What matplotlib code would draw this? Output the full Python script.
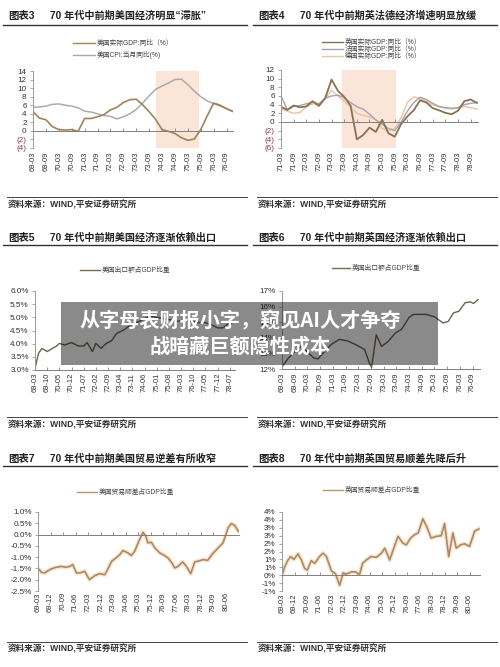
import matplotlib.pyplot as plt
from matplotlib.lines import Line2D
from matplotlib.patches import Rectangle

plt.rcParams['font.family'] = ['Liberation Sans', 'Noto Sans CJK SC', 'DejaVu Sans']

# ---------------- data ----------------
# chart 3: US GDP / CPI, quarterly, months from 69-03
us_q_months = [0, 3, 6, 9, 12, 15, 18, 21, 24, 27, 30, 33, 36, 39, 42, 45,
               48, 51, 54, 57, 60, 63, 66, 69, 72, 75, 78, 81, 84, 87, 90, 93]
us_gdp = [4.5, 3.0, 2.6, 1.0, 0.3, 0.2, 0.3, -0.1, 2.9, 2.9, 3.3, 3.8, 4.9, 5.5, 6.6, 7.3,
          7.4, 6.1, 4.5, 2.7, 0.3, -0.1, -0.6, -1.6, -2.2, -1.9, 0.3, 3.5, 6.5, 6.0, 5.2, 4.5]
us_cpi = [5.5, 5.6, 5.8, 6.2, 6.3, 6.0, 5.8, 5.4, 4.6, 4.4, 4.0, 3.6, 3.4, 2.8, 3.3, 4.0,
          5.0, 6.5, 8.2, 9.7, 10.5, 11.2, 12.0, 12.1, 10.8, 9.3, 8.0, 7.0, 6.4, 5.8, 5.2, 4.6]
ticks3 = ['69-03', '69-09', '70-03', '70-09', '71-03', '71-09', '72-03', '72-09',
          '73-03', '73-09', '74-03', '74-09', '75-03', '75-09', '76-03', '76-09']

# chart 4: UK / France / Germany GDP, quarterly, months from 71-03
eu_q_months = us_q_months
uk_gdp = [3.5, 2.8, 3.8, 3.4, 3.6, 4.8, 3.7, 5.5, 9.8, 7.2, 5.8, 3.8, -4.0, -3.0, -1.3, -2.3,
          0.5, -2.6, -3.4, -0.5, 1.3, 2.7, 5.0, 4.5, 3.2, 2.7, 2.1, 1.8, 2.6, 4.8, 5.2, 4.4]
fr_gdp = [6.0, 2.8, 3.6, 3.8, 4.2, 4.6, 4.2, 5.5, 6.0, 6.2, 5.6, 4.5, 3.5, 3.0, 1.8, 0.5,
          -0.5, -1.5, -2.0, 0.0, 2.5, 4.5, 5.7, 5.2, 4.3, 3.6, 3.3, 3.2, 3.3, 4.0, 4.3, 4.5]
de_gdp = [3.0, 2.5, 2.0, 2.2, 3.5, 4.2, 4.0, 5.5, 7.3, 6.0, 4.8, 3.5, 2.0, 1.5, 1.2, 0.5,
          -1.5, -2.0, -1.5, 1.0, 4.5, 5.8, 5.4, 4.8, 4.0, 3.5, 3.2, 3.0, 3.2, 3.6, 3.3, 3.0]
ticks4 = ['71-03', '71-09', '72-03', '72-09', '73-03', '73-09', '74-03', '74-09',
          '75-03', '75-09', '76-03', '76-09', '77-03', '77-09', '78-03', '78-09']

# chart 5: US exports / GDP (%), months from 69-03
us_exp_months = [0, 2, 4, 7, 10, 12, 14, 17, 21, 25, 28, 30, 33, 35, 38, 41, 44, 47, 51,
                 55, 57, 60, 63, 66, 70, 74, 78, 82, 86, 90, 94, 98, 102, 105, 108, 111, 113]
us_exp = [3.06, 3.63, 3.82, 3.70, 3.82, 3.89, 4.01, 3.95, 4.04, 3.91, 3.91, 4.04, 3.70, 4.01,
          3.82, 4.01, 4.11, 4.39, 4.52, 4.71, 4.77, 4.85, 4.95, 5.05, 5.0, 4.95, 4.9, 4.85,
          4.9, 4.85, 4.8, 4.8, 4.7, 4.6, 4.6, 4.75, 4.75]
ticks5 = ['69-03', '69-10', '70-05', '70-12', '71-07', '72-02', '72-09', '73-04', '73-11',
          '74-06', '75-01', '75-08', '76-03', '76-10', '77-05', '77-12', '78-07']

# chart 6: UK exports / GDP (%), months from 69-03
uk_exp_months = [0, 3, 6, 9, 12, 15, 17, 20, 23, 27, 31, 35, 39, 41.5, 42.3, 44.5, 47, 50,
                 53.5, 56.5, 60, 62, 68, 72, 76, 78.5, 81, 83.5, 86.5, 89, 90.5, 92.5]
uk_exp = [12.13, 12.7, 13.1, 13.45, 13.1, 12.7, 12.65, 13.1, 13.55, 13.9, 13.8, 13.55, 13.25,
          12.3, 12.1, 14.2, 13.45, 13.75, 14.3, 14.55, 15.3, 15.5, 15.5, 15.35, 14.95, 15.05,
          15.6, 15.7, 16.25, 16.3, 16.2, 16.45]
ticks6 = ticks3

# chart 7: US trade balance / GDP (%), months from 69-03
us_tb_months = [0, 2.4, 4.8, 7.2, 9.6, 13, 16.8, 20, 22.8, 25, 27.6, 30, 33.6, 37, 40.8,
                44.4, 48, 50, 53, 56, 58.8, 61, 64.7, 67, 69.5, 73, 75.5, 77.5, 79, 81.5,
                84, 87.5, 91, 93.5, 96, 98.3, 100.7, 104, 106.7, 109.8, 112.7, 115, 118.7,
                122, 125.4, 129.5, 133, 136.7, 139, 141.5, 144]
us_tb = [-1.48, -1.67, -1.70, -1.60, -1.52, -1.45, -1.41, -1.45, -1.41, -1.33, -1.70, -1.70,
         -1.63, -2.0, -1.82, -1.73, -1.78, -1.55, -1.18, -1.04, -0.89, -0.71, -0.81, -0.93,
         -0.74, -0.22, 0.10, -0.07, -0.37, -0.34, -0.59, -0.81, -0.93, -1.04, -1.23, -1.48,
         -1.41, -1.21, -1.41, -1.73, -1.21, -1.18, -1.11, -1.14, -0.86, -0.59, -0.37, 0.30,
         0.49, 0.40, 0.15]
ticks7 = ['69-03', '69-12', '70-09', '71-06', '72-03', '72-12', '73-09', '74-06', '75-03',
          '75-12', '76-09', '77-06', '78-03', '78-12', '79-09', '80-06']

# chart 8: UK trade balance / GDP (%), months from 69-03
uk_tb_months = [0, 1.9, 4.3, 6.2, 8.6, 11.5, 14, 16.3, 18.2, 21, 23.5, 27, 29.5, 32, 35.5,
                38.4, 41.5, 44, 46, 50, 52.8, 55.9, 58, 60.7, 64, 67.9, 71.5, 74, 77.5, 80,
                83.5, 87, 89.5, 92.6, 95.4, 98, 101.4, 104, 107.4, 111, 114.6, 117, 120,
                123, 125.4, 128.5, 131.4, 135, 138.6, 141.7]
uk_tb = [0.0, 0.53, 0.96, 1.18, 1.0, 1.35, 0.96, 0.43, 0.32, 0.92, 0.75, 1.18, 1.39, 1.18,
         0.28, 0.11, -0.64, 0.15, 0.06, 0.21, 0.21, 0.06, 0.75, 0.96, 1.18, 1.13, 1.39, 1.71,
         0.96, 1.60, 2.46, 2.03, 1.92, 2.35, 2.56, 2.67, 3.57, 3.10, 2.35, 2.46, 2.50, 3.27,
         1.18, 2.67, 1.71, 1.92, 1.99, 1.82, 2.78, 2.93]
ticks8 = ticks7
ylabels8 = ['4%', '4%', '3%', '3%', '2%', '2%', '1%', '1%', '0%', '-1%', '-1%']

# ---------------- layout helpers ----------------
W, H = 500, 667
fig = plt.figure(figsize=(5, 6.67), dpi=100)


def box(l, t, r, b):
    return [l / W, 1 - b / H, (r - l) / W, (b - t) / H]


def mon(label, base):
    y, m = label.split('-')
    by, bm = base.split('-')
    return (int(y) - int(by)) * 12 + int(m) - int(bm)


def setup(ax, xlabels, base, yticks, ylabels, xlim, ylim, zero_axis, pad):
    # spine position first: moving it resets the ticks
    if zero_axis:
        ax.spines['bottom'].set_position(('data', 0))
    ax.set_xlim(*xlim)
    ax.set_ylim(*ylim)
    ax.set_xticks([mon(s, base) for s in xlabels])
    ax.set_xticklabels(xlabels, rotation=90, fontsize=5.5, color='#333333')
    ax.set_yticks(yticks)
    ax.set_yticklabels(ylabels, fontsize=5.9, color='#333333')
    for s in ['top', 'right']:
        ax.spines[s].set_visible(False)
    ax.spines['left'].set_color('#9a9a9a')
    ax.spines['left'].set_linewidth(0.7)
    ax.spines['bottom'].set_color('#808080')
    ax.spines['bottom'].set_linewidth(0.7)
    ax.tick_params(axis='x', direction='in', length=2.5, width=0.6, colors='#808080',
                   labelcolor='#333333', pad=pad)
    ax.tick_params(axis='y', direction='out', length=2.5, width=0.6, colors='#9a9a9a',
                   labelcolor='#333333', pad=2)
    for lab in ax.get_yticklabels():
        if lab.get_text().startswith('('):
            lab.set_color('#8b3a4a')
    ax.patch.set_alpha(0)


def header(x0, y_text, y_line, num, title):
    fig.text(x0 / W, 1 - y_text / H, num, fontsize=7.5, weight='bold', va='center',
             color='#222222')
    fig.text((x0 + 42) / W, 1 - y_text / H, title, fontsize=7.3, weight='bold',
             va='center', color='#222222')
    fig.add_artist(Line2D([(x0 - 5) / W, (x0 + 239) / W], [1 - y_line / H] * 2,
                          color='#333333', lw=1.0))


def footer(x0, y_line, y_text):
    fig.add_artist(Line2D([(x0 - 1) / W, (x0 + 239) / W], [1 - y_line / H] * 2,
                          color='#444444', lw=0.7))
    fig.text(x0 / W, 1 - y_text / H, '资料来源：WIND,平安证券研究所', fontsize=6.2,
             weight='bold', va='center', color='#333333')


def legend(x0, x1, ys, colors, texts):
    for y, c, t in zip(ys, colors, texts):
        fig.add_artist(Line2D([x0 / W, x1 / W], [1 - y / H] * 2, color=c, lw=1.0))
        fig.text((x1 + 2) / W, 1 - y / H, t, fontsize=4.9, va='center', color='#444444')


# ---------------- chart 3 ----------------
header(8, 16, 25, '图表3', '70 年代中前期美国经济明显“滞胀”')
legend(73, 95, [43, 55], ['#a0845c', '#ababab'],
       ['美国实际GDP:同比（%）', '美国CPI:当月同比(%)'])
ax = fig.add_axes(box(33, 71, 233, 148))
ax.axvspan(57, 77, color='#fbe4d8', lw=0, zorder=0)
ax.plot(us_q_months, us_cpi, color='#ababab', lw=1.1)
ax.plot(us_q_months, us_gdp, color='#a0845c', lw=1.2)
setup(ax, ticks3, '69-03', list(range(14, -5, -2)),
      ['14', '12', '10', '8', '6', '4', '2', '0', '(2)', '(4)'],
      (0, 93), (-4, 14), True, 15)
footer(8, 197, 205)

# ---------------- chart 4 ----------------
header(258, 16, 25, '图表4', '70 年代中前期英法德经济增速明显放缓')
legend(322, 343, [42, 49, 56], ['#8c7050', '#a4a4b0', '#eac6a6'],
       ['英国实际GDP:同比（%）', '法国实际GDP:同比（%）', '德国实际GDP:同比（%）'])
ax = fig.add_axes(box(281, 70, 478, 148))
ax.axvspan(29, 54.5, color='#fbe4d8', lw=0, zorder=0)
ax.plot(eu_q_months, de_gdp, color='#eac6a6', lw=1.1)
ax.plot(eu_q_months, fr_gdp, color='#a4a4b0', lw=1.0)
ax.plot(eu_q_months, uk_gdp, color='#8c7050', lw=1.3)
setup(ax, ticks4, '71-03', list(range(12, -7, -2)),
      ['12', '10', '8', '6', '4', '2', '0', '(2)', '(4)', '(6)'],
      (0, 93.5), (-6, 12), True, 21.5)
footer(258, 197, 205)

# ---------------- chart 5 ----------------
header(8, 238, 245, '图表5', '70 年代中前期美国经济逐渐依赖出口')
legend(80, 100, [270], ['#7a6a52'], ['美国出口额占GDP比重'])
ax = fig.add_axes(box(35, 291, 235, 370))
ax.plot(us_exp_months, us_exp, color='#6f6350', lw=1.0)
setup(ax, ticks5, '69-03', [6.0, 5.5, 5.0, 4.5, 4.0, 3.5, 3.0],
      ['6.0%', '5.5%', '5.0%', '4.5%', '4.0%', '3.5%', '3.0%'],
      (0, 115), (3.0, 6.0), False, 2)
footer(8, 417, 425)

# ---------------- chart 6 ----------------
header(258, 238, 245, '图表6', '70 年代中前期英国经济逐渐依赖出口')
legend(332, 350, [268], ['#7a6a52'], ['英国出口额占GDP比重'])
ax = fig.add_axes(box(282, 291, 480, 369))
ax.plot(uk_exp_months, uk_exp, color='#6f6350', lw=1.0)
setup(ax, ticks6, '69-03', [17, 16, 15, 14, 13, 12],
      ['17%', '16%', '15%', '14%', '13%', '12%'],
      (0, 93.5), (12, 17), False, 2.5)
footer(258, 417, 425)

# ---------------- chart 7 ----------------
header(8, 459, 466, '图表7', '70 年代中前期美国贸易逆差有所收窄')
legend(77, 97, [492], ['#b8966e'], ['美国贸易顺差占GDP比重'])
ax = fig.add_axes(box(38, 512, 239, 591))
ax.plot(us_tb_months, us_tb, color='#f6cc9e', lw=3.2, alpha=0.5)
ax.plot(us_tb_months, us_tb, color='#a88a68', lw=1.2)
setup(ax, ticks7, '69-03', [1.0, 0.5, 0.0, -0.5, -1.0, -1.5, -2.0, -2.5],
      ['1.0%', '0.5%', '0.0%', '-0.5%', '-1.0%', '-1.5%', '-2.0%', '-2.5%'],
      (0, 144.5), (-2.5, 1.0), True, 41.5)
footer(8, 642, 649)

# ---------------- chart 8 ----------------
header(258, 459, 466, '图表8', '70 年代中前期英国贸易顺差先降后升')
legend(323, 343, [490], ['#b8966e'], ['英国贸易顺差占GDP比重'])
ax = fig.add_axes(box(282, 512, 480, 591))
ax.plot(uk_tb_months, uk_tb, color='#f6cc9e', lw=3.2, alpha=0.5)
ax.plot(uk_tb_months, uk_tb, color='#a88a68', lw=1.2)
setup(ax, ticks8, '69-03', [4.0, 3.5, 3.0, 2.5, 2.0, 1.5, 1.0, 0.5, 0.0, -0.5, -1.0],
      ylabels8, (0, 142.5), (-1, 4), True, 13)
footer(258, 642, 649)

# ---------------- overlay banner ----------------
fig.add_artist(Rectangle((61 / W, 1 - 365 / H), (438 - 61) / W, (365 - 302) / H,
                         transform=fig.transFigure, facecolor='black', alpha=0.46,
                         edgecolor='none', zorder=10))
fig.text(240 / W, 1 - 321 / H, '从字母表财报小字，窥见AI人才争夺', color='white',
         fontsize=14.5, weight='bold', ha='center', va='center', zorder=11,
         family=['Noto Sans CJK SC', 'DejaVu Sans'])
fig.text(240 / W, 1 - 346 / H, '战暗藏巨额隐性成本', color='white',
         fontsize=14.5, weight='bold', ha='center', va='center', zorder=11,
         family=['Noto Sans CJK SC', 'DejaVu Sans'])

fig.savefig('out.png', dpi=100)
